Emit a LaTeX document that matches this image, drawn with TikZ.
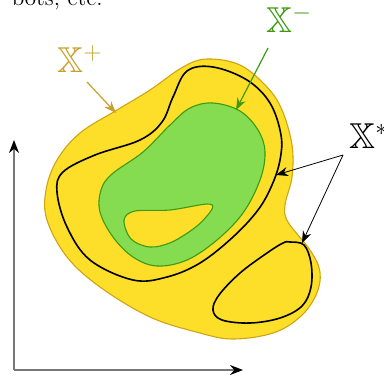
\documentclass[tikz,border=0pt]{standalone}
\usepackage{amsmath,amssymb}
\usepackage{tikz}
\usepackage{xcolor}
\usetikzlibrary{arrows.meta}
\definecolor{blobfill}{HTML}{FDDE28}
\definecolor{blobedge}{HTML}{CFA514}
\definecolor{greenfill}{HTML}{86DC51}
\definecolor{greenedge}{HTML}{3C9A0F}
\definecolor{goldlabel}{HTML}{C9A02A}
\definecolor{axisgray}{HTML}{777777}
\tikzset{
  outerset/.style={fill=blobfill,draw=blobedge,line width=0.55pt},
  innerset/.style={fill=greenfill,draw=greenedge,line width=0.55pt},
  holeset/.style={fill=blobfill,draw=greenedge,line width=0.55pt},
  levelset/.style={draw=black,line width=0.8pt},
  setlabel/.style={inner sep=0pt,font=\fontsize{18}{20}\selectfont},
  axisarr/.style={-{Stealth[length=6.5pt,width=5pt,color=black]},draw=axisgray,line width=0.7pt},
  plusarr/.style={-{Stealth[length=6pt,width=4.5pt]},draw=goldlabel,line width=0.6pt},
  minusarr/.style={-{Stealth[length=6pt,width=4.5pt]},draw=greenedge,line width=0.6pt},
  stararr/.style={-{Stealth[length=6pt,width=4.5pt]},draw=black,line width=0.4pt}
}

\begin{document}
\begin{tikzpicture}[x=0.5pt,y=-0.5pt]
    \useasboundingbox (0,0) rectangle (384,376);

    % clipped text from the line above
    \node[anchor=base east,inner sep=0pt,font=\fontsize{11.5}{13}\selectfont] (captionrest) at (103,5) {bots, etc.};

    % axes
    \coordinate (origin) at (14,370);
    \coordinate (yend) at (14,140);
    \coordinate (xend) at (243,370);
    \draw[axisarr] (origin) -- (yend);
    \draw[axisarr] (origin) -- (xend);

    % sets
    \draw[outerset] plot[smooth cycle,tension=0.6] coordinates {
      (207,59) (240,65) (267,87) (282,110) (292,145) (292,177) (285,205)
      (288,222) (310,250) (320,272) (316,295) (300,317) (273,333) (233,339)
      (200,333) (150,317) (100,287) (67,257) (47,220) (46,190) (57,160)
      (80,133) (117,110) (150,90) (183,67)};
    \draw[levelset] plot[smooth cycle,tension=0.6] coordinates {
      (213,67) (247,80) (270,103) (281,135) (280,160) (272,185) (258,210)
      (233,237) (200,263) (167,277) (133,280) (90,260) (67,227) (57,192)
      (63,172) (95,155) (140,140) (162,122) (173,97) (187,71)};
    \draw[innerset] plot[smooth cycle,tension=0.6] coordinates {
      (213,103) (240,111) (258,130) (265,152) (260,180) (243,213) (217,240)
      (187,260) (157,266) (133,257) (113,237) (100,212) (101,190) (112,174)
      (143,152) (170,125) (190,108)};
    \draw[holeset] plot[smooth cycle,tension=0.55] coordinates {
      (124,220) (135,211) (170,210) (207,204) (212,209) (197,226) (172,242)
      (150,247) (131,239)};
    \draw[levelset] plot[smooth cycle,tension=0.6] coordinates {
      (290,242) (304,245) (311,263) (311,287) (302,306) (280,318) (250,323)
      (222,320) (213,310) (219,295) (240,273) (267,253) (283,243)};

    % labels
    \node[setlabel,anchor=base west,text=goldlabel] (xplus) at (57,72) {$\mathbb{X}^+$};
    \node[setlabel,anchor=base west,text=greenedge] (xminus) at (266,32) {$\mathbb{X}^-$};
    \node[setlabel,anchor=base west] (xstar) at (349,148) {$\mathbb{X}^*$};

    \coordinate (plusfrom) at (87,82);
    \coordinate (plusto) at (116,113);
    \coordinate (minusfrom) at (268,48);
    \coordinate (minusto) at (236,110);
    \coordinate (starfrom) at (343,155);
    \coordinate (starbig) at (276,175);
    \coordinate (starsmall) at (302,243);
    \draw[plusarr] (plusfrom) -- (plusto);
    \draw[minusarr] (minusfrom) -- (minusto);
    \draw[stararr] (starfrom) -- (starbig);
    \draw[stararr] (starfrom) -- (starsmall);
  \end{tikzpicture}
\end{document}
